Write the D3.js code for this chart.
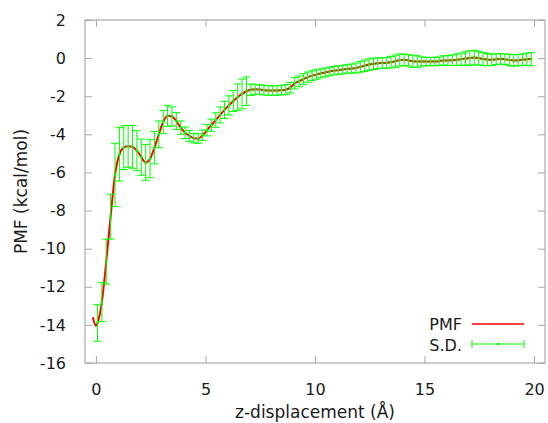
<!DOCTYPE html>
<html>
<head>
<meta charset="utf-8">
<script src="https://cdn.jsdelivr.net/npm/d3@7"></script>
<style>
  body { margin: 0; background: #fff; }
  svg text { font-family: "DejaVu Sans", sans-serif; fill: #1a1a1a; }
</style>
</head>
<body>
<div id="my_dataviz"></div>
<script>
// z-displacement (A) of each window
var zValues = [0.07,0.27,0.47,0.67,0.87,1.07,1.27,1.47,1.67,1.87,
  2.07,2.27,2.47,2.67,2.87,3.07,3.27,3.47,3.67,3.87,
  4.07,4.27,4.47,4.67,4.87,5.07,5.27,5.47,5.67,5.87,
  6.07,6.27,6.47,6.67,6.87,7.07,7.27,7.47,7.67,7.87,
  8.07,8.27,8.47,8.67,8.87,9.07,9.27,9.47,9.67,9.87,
  10.07,10.27,10.47,10.67,10.87,11.07,11.27,11.47,11.67,11.87,
  12.07,12.27,12.47,12.67,12.87,13.07,13.27,13.47,13.67,13.87,
  14.07,14.27,14.47,14.67,14.87,15.07,15.27,15.47,15.67,15.87,
  16.07,16.27,16.47,16.67,16.87,17.07,17.27,17.47,17.67,17.87,
  18.07,18.27,18.47,18.67,18.87,19.07,19.27,19.47,19.67,19.87];

// PMF (kcal/mol)
var pmfValues = [-13.90,-12.80,-10.68,-8.32,-6.13,-5.05,-4.70,-4.63,-4.66,-4.86,
  -5.20,-5.48,-5.28,-4.70,-4.00,-3.35,-3.03,-3.06,-3.30,-3.65,
  -3.92,-4.08,-4.20,-4.22,-4.05,-3.78,-3.52,-3.25,-2.98,-2.72,
  -2.48,-2.25,-2.05,-1.88,-1.74,-1.66,-1.64,-1.65,-1.68,-1.70,
  -1.70,-1.70,-1.68,-1.66,-1.55,-1.32,-1.22,-1.10,-1.00,-0.92,
  -0.86,-0.80,-0.75,-0.70,-0.66,-0.63,-0.60,-0.57,-0.55,-0.52,
  -0.46,-0.40,-0.34,-0.30,-0.27,-0.26,-0.25,-0.21,-0.16,-0.10,
  -0.09,-0.12,-0.17,-0.18,-0.18,-0.18,-0.18,-0.18,-0.16,-0.12,
  -0.13,-0.11,-0.08,-0.06,-0.02,0.00,0.03,0.00,-0.05,-0.08,
  -0.09,-0.06,-0.04,-0.06,-0.10,-0.12,-0.11,-0.08,-0.06,-0.05];

// standard deviation
var sdValues = [0.96,1.03,1.18,1.18,1.66,1.40,1.15,1.10,1.12,1.05,
  0.95,0.95,1.00,0.85,0.70,0.60,0.55,0.50,0.45,0.35,
  0.30,0.28,0.25,0.25,0.28,0.30,0.32,0.38,0.42,0.45,
  0.50,0.55,0.70,0.78,0.75,0.30,0.26,0.25,0.25,0.25,
  0.25,0.25,0.25,0.26,0.28,0.30,0.28,0.28,0.27,0.25,
  0.25,0.23,0.23,0.22,0.22,0.22,0.22,0.22,0.24,0.26,
  0.28,0.30,0.30,0.30,0.28,0.28,0.28,0.30,0.32,0.32,
  0.30,0.30,0.32,0.30,0.24,0.22,0.22,0.22,0.22,0.24,
  0.26,0.28,0.30,0.32,0.35,0.38,0.38,0.36,0.34,0.32,
  0.30,0.28,0.28,0.28,0.30,0.30,0.30,0.30,0.32,0.35];

// the PMF curve starts a bit before the first window
var pmfHead = [[-0.14, -13.6], [0.0, -14.05]];

var xTicks = [0, 5, 10, 15, 20];
var yTicks = [-16, -14, -12, -10, -8, -6, -4, -2, 0, 2];

var width = 548, height = 423;
var mLeft = 85, mRight = 545, mTop = 20, mBottom = 363;

var svg = d3.select("#my_dataviz").append("svg")
  .attr("width", width).attr("height", height);

var x = d3.scaleLinear().domain([-0.5, 20.5]).range([mLeft, mRight]);
var y = d3.scaleLinear().domain([-16, 2]).range([mBottom, mTop]);

var borderColor = "#a8a8a8";

// ticks on all four sides, pointing inward (gnuplot mirror style)
function styleAxis(g) {
  g.select(".domain").remove();
  g.selectAll(".tick line").attr("stroke", borderColor).attr("stroke-width", 1);
  g.selectAll(".tick text").style("font-size", "16px").attr("fill", "#1a1a1a");
}

svg.append("g").attr("transform", "translate(" + mLeft + ",0)")
  .call(d3.axisLeft(y).tickValues(yTicks).tickSize(-7).tickPadding(19).tickFormat(function(d){ return String(d); }))
  .call(styleAxis);
svg.append("g").attr("transform", "translate(" + mRight + ",0)")
  .call(d3.axisRight(y).tickValues(yTicks).tickSize(-7).tickFormat(""))
  .call(styleAxis);
svg.append("g").attr("transform", "translate(0," + mBottom + ")")
  .call(d3.axisBottom(x).tickValues(xTicks).tickSize(-7).tickPadding(21).tickFormat(function(d){ return String(d); }))
  .call(styleAxis);
svg.append("g").attr("transform", "translate(0," + mTop + ")")
  .call(d3.axisTop(x).tickValues(xTicks).tickSize(-7).tickFormat(""))
  .call(styleAxis);

svg.append("rect")
  .attr("x", mLeft).attr("y", mTop)
  .attr("width", mRight - mLeft).attr("height", mBottom - mTop)
  .attr("fill", "none").attr("stroke", borderColor).attr("stroke-width", 1.2);

// axis titles
svg.append("text")
  .attr("transform", "translate(27," + ((mTop + mBottom) / 2) + ") rotate(-90)")
  .attr("text-anchor", "middle")
  .style("font-size", "17px")
  .text("PMF (kcal/mol)");
svg.append("text")
  .attr("x", (mLeft + mRight) / 2).attr("y", 418)
  .attr("text-anchor", "middle")
  .style("font-size", "17px")
  .text("z-displacement (Å)");

// PMF curve
var pts = pmfHead.concat(zValues.map(function(z, i){ return [z, pmfValues[i]]; }));
var line = d3.line().curve(d3.curveMonotoneX)
  .x(function(d){ return x(d[0]); }).y(function(d){ return y(d[1]); });
svg.append("path")
  .attr("d", line(pts))
  .attr("fill", "none")
  .attr("stroke", "#ff0000")
  .attr("stroke-width", 2);

// S.D. error bars
var green = "#00ff00";
var cap = 4;
var bars = svg.append("g").attr("stroke", green).attr("stroke-width", 1);
zValues.forEach(function(z, i){
  var cx = x(z), y1 = y(pmfValues[i] + sdValues[i]), y2 = y(pmfValues[i] - sdValues[i]);
  bars.append("line").attr("x1", cx).attr("x2", cx).attr("y1", y1).attr("y2", y2);
  bars.append("line").attr("x1", cx - cap).attr("x2", cx + cap).attr("y1", y1).attr("y2", y1);
  bars.append("line").attr("x1", cx - cap).attr("x2", cx + cap).attr("y1", y2).attr("y2", y2);
  bars.append("rect").attr("x", cx - 1.1).attr("y", y(pmfValues[i]) - 1.1)
    .attr("width", 2.2).attr("height", 2.2).attr("fill", green).attr("stroke", "none");
});

// legend
svg.append("text").attr("x", 462).attr("y", 330).attr("text-anchor", "end")
  .style("font-size", "16px").text("PMF");
svg.append("line").attr("x1", 472).attr("x2", 524).attr("y1", 324).attr("y2", 324)
  .attr("stroke", "#ff0000").attr("stroke-width", 1.6);
svg.append("text").attr("x", 462).attr("y", 351).attr("text-anchor", "end")
  .style("font-size", "16px").text("S.D.");
var lg = svg.append("g").attr("stroke", green).attr("stroke-width", 1);
lg.append("line").attr("x1", 472).attr("x2", 524).attr("y1", 344).attr("y2", 344);
lg.append("line").attr("x1", 472).attr("x2", 472).attr("y1", 340).attr("y2", 348);
lg.append("line").attr("x1", 524).attr("x2", 524).attr("y1", 340).attr("y2", 348);
lg.append("rect").attr("x", 496.8).attr("y", 342.8).attr("width", 2.4).attr("height", 2.4).attr("fill", green).attr("stroke", "none");
</script>
</body>
</html>
